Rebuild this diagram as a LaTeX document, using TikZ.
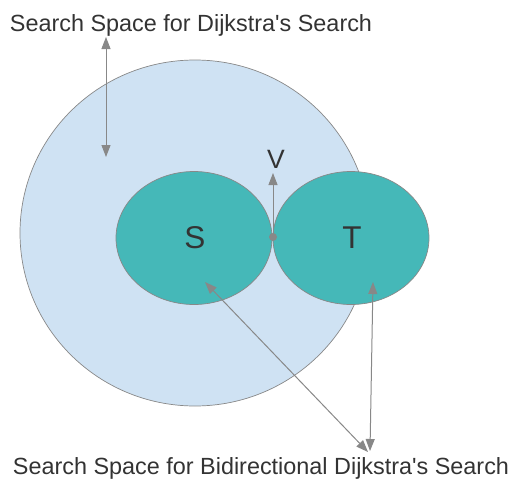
\documentclass[tikz,border=0pt]{standalone}
\usepackage{fontspec}
\setmainfont{Liberation Sans}
\usetikzlibrary{arrows.meta,shapes.geometric}
\definecolor{spaceblue}{HTML}{CFE2F3}
\definecolor{searchteal}{HTML}{45B8B8}
\definecolor{edgegray}{HTML}{888888}
\definecolor{textgray}{HTML}{333333}
\tikzset{
	area/.style={ellipse, draw=edgegray, line width=0.7pt, inner sep=0pt},
	lbl/.style={text=textgray, font=\fontsize{23.4}{28}\selectfont},
	biglbl/.style={text=textgray, font=\fontsize{31.5}{36}\selectfont},
	ptr/.style={draw=edgegray, line width=1pt, {Triangle[length=12pt,width=9pt]}-{Triangle[length=12pt,width=9pt]}},
}
\begin{document}
\begin{tikzpicture}[x=1pt,y=-1pt, line join=round]
	\useasboundingbox (0,0) rectangle (509,482);
	% --- Vùng tìm kiếm Dijkstra ---
	\node[area, fill=spaceblue, minimum width=350, minimum height=346] (big) at (195,233) {};
	% --- Hai vùng tìm kiếm hai chiều ---
	\node[area, fill=searchteal, minimum width=156, minimum height=133] (S) at (194,238) {};
	\node[area, fill=searchteal, minimum width=156, minimum height=133] (T) at (351,238) {};
	\node[biglbl] at (195,238) {S};
	\node[biglbl] at (352,238) {T};
	% --- Điểm gặp nhau V ---
	\coordinate (v) at (273,237);
	\coordinate (vtip) at (273,173);
	\fill[edgegray] (v) circle (4);
	\draw[draw=edgegray, line width=1pt, -{Triangle[length=12pt,width=9pt]}] (v) -- (vtip);
	\node[lbl, font=\fontsize{26.5}{30}\selectfont] (vlbl) at (276,159) {V};
	% --- Chú thích ---
	\node[lbl] (top) at (191,25) {Search Space for Dijkstra\textquotesingle s Search};
	\node[lbl] (bottom) at (261,468) {Search Space for Bidirectional Dijkstra\textquotesingle s Search};
	\coordinate (a1) at (106,37);
	\coordinate (a2) at (106,157);
	\coordinate (b1) at (205,282);
	\coordinate (b2) at (368,452);
	\coordinate (c1) at (373,282);
	\coordinate (c2) at (370,451);
	\draw[ptr] (a1) -- (a2);
	\draw[ptr] (b1) -- (b2);
	\draw[ptr] (c1) -- (c2);
\end{tikzpicture}
\end{document}
